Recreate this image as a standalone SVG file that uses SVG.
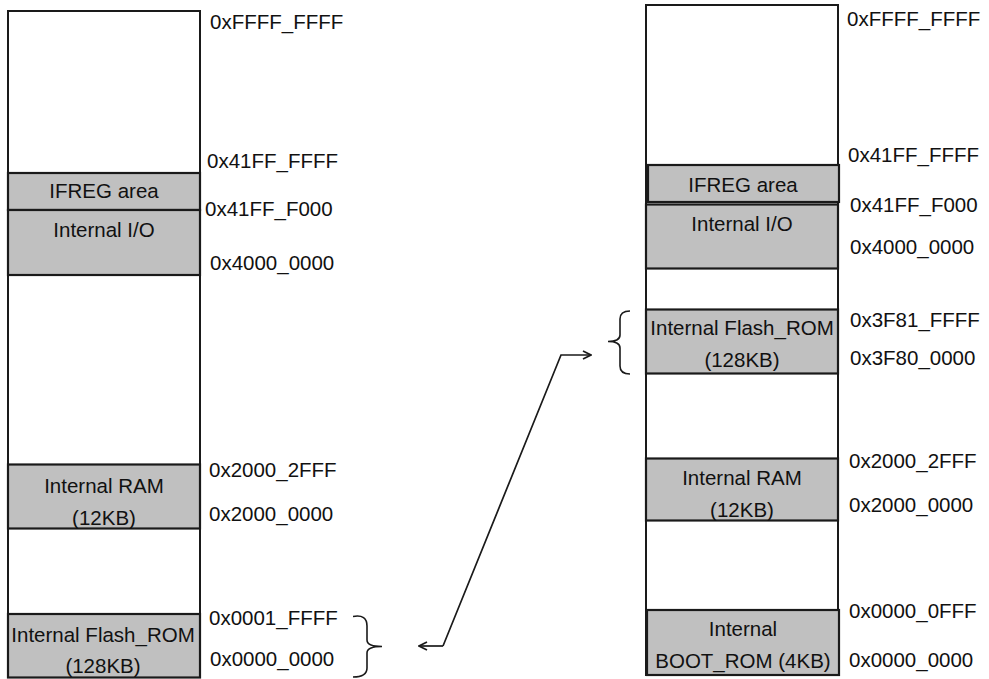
<svg xmlns="http://www.w3.org/2000/svg" width="989" height="679" viewBox="0 0 989 679">
<defs>
<style>
text{font-family:"Liberation Sans",Arial,sans-serif;font-size:20.5px;fill:#111}
.c{text-anchor:middle}
.frame{fill:#fff;stroke:#1a1a1a;stroke-width:2}
.seg{fill:#c0c0c0;stroke:#1a1a1a;stroke-width:2.2}
.brace{fill:none;stroke:#1a1a1a;stroke-width:1.6}
.conn{fill:none;stroke:#1a1a1a;stroke-width:1.7}
</style>
<marker id="arr" viewBox="0 0 10 10" refX="9" refY="5" markerWidth="10" markerHeight="10" markerUnits="userSpaceOnUse" orient="auto-start-reverse">
<path d="M1,1 L9,5 L1,9" fill="none" stroke="#1a1a1a" stroke-width="1.7"/>
</marker>
</defs>
<rect width="989" height="679" fill="#fff"/>

<g id="left-map">
<rect class="frame" x="8" y="11" width="192" height="666"/>
<text x="210" y="29">0xFFFF_FFFF</text>
<text x="207" y="168">0x41FF_FFFF</text>
<text x="205" y="216">0x41FF_F000</text>
<text x="210" y="270">0x4000_0000</text>
<text x="209" y="477">0x2000_2FFF</text>
<text x="209" y="521">0x2000_0000</text>
<text x="209" y="625">0x0001_FFFF</text>
<text x="210" y="666">0x0000_0000</text>
</g>
<g id="left-ifreg">
<rect class="seg" x="8" y="173" width="192" height="37"/>
<text class="c" x="104" y="198">IFREG area</text>
</g>
<g id="left-io">
<rect class="seg" x="8" y="210" width="192" height="65"/>
<text class="c" x="104" y="237">Internal I/O</text>
</g>
<g id="left-ram">
<rect class="seg" x="8" y="464.5" width="192" height="64"/>
<text class="c" x="104" y="493">Internal RAM</text>
<text class="c" x="104" y="525">(12KB)</text>
</g>
<g id="left-flash">
<rect class="seg" x="8" y="614" width="192" height="63.5"/>
<text class="c" x="103" y="642">Internal Flash_ROM</text>
<text class="c" x="103" y="673">(128KB)</text>
</g>

<g id="right-map">
<rect class="frame" x="646" y="5" width="192" height="670"/>
<text x="847" y="26">0xFFFF_FFFF</text>
<text x="848" y="162">0x41FF_FFFF</text>
<text x="850" y="212">0x41FF_F000</text>
<text x="850" y="254">0x4000_0000</text>
<text x="850" y="327">0x3F81_FFFF</text>
<text x="850" y="365">0x3F80_0000</text>
<text x="849" y="468">0x2000_2FFF</text>
<text x="849" y="512">0x2000_0000</text>
<text x="849" y="618">0x0000_0FFF</text>
<text x="849" y="667">0x0000_0000</text>
</g>
<g id="right-ifreg">
<rect class="seg" x="648" y="165" width="191" height="37"/>
<text class="c" x="743" y="192">IFREG area</text>
</g>
<g id="right-io">
<rect class="seg" x="646" y="204.5" width="192" height="64"/>
<text class="c" x="742" y="231">Internal I/O</text>
</g>
<g id="right-flash">
<rect class="seg" x="646" y="309.5" width="192" height="64"/>
<text class="c" x="742" y="335">Internal Flash_ROM</text>
<text class="c" x="742" y="367">(128KB)</text>
</g>
<g id="right-ram">
<rect class="seg" x="646" y="458.5" width="192" height="62"/>
<text class="c" x="742" y="485">Internal RAM</text>
<text class="c" x="742" y="517">(12KB)</text>
</g>
<g id="right-boot">
<rect class="seg" x="647" y="610" width="192" height="65"/>
<text class="c" x="743" y="636">Internal</text>
<text class="c" x="743" y="668">BOOT_ROM (4KB)</text>
</g>

<g id="connectors">
<path class="brace" d="M353,616.5 Q367,614 367,626 L367,640 Q367,646.5 382,646.5 Q367,646.5 367,653 L367,668 Q367,677 353,677"/>
<path class="brace" d="M630,311 Q620,311 620,319 L620,335 Q620,341.5 608,341.5 Q620,341.5 620,348 L620,366 Q620,374 630,374"/>
<path class="conn" d="M443,646 L561,355 L591,355" marker-end="url(#arr)"/>
<path class="conn" d="M443,646 L419,646" marker-end="url(#arr)"/>
</g>
</svg>
